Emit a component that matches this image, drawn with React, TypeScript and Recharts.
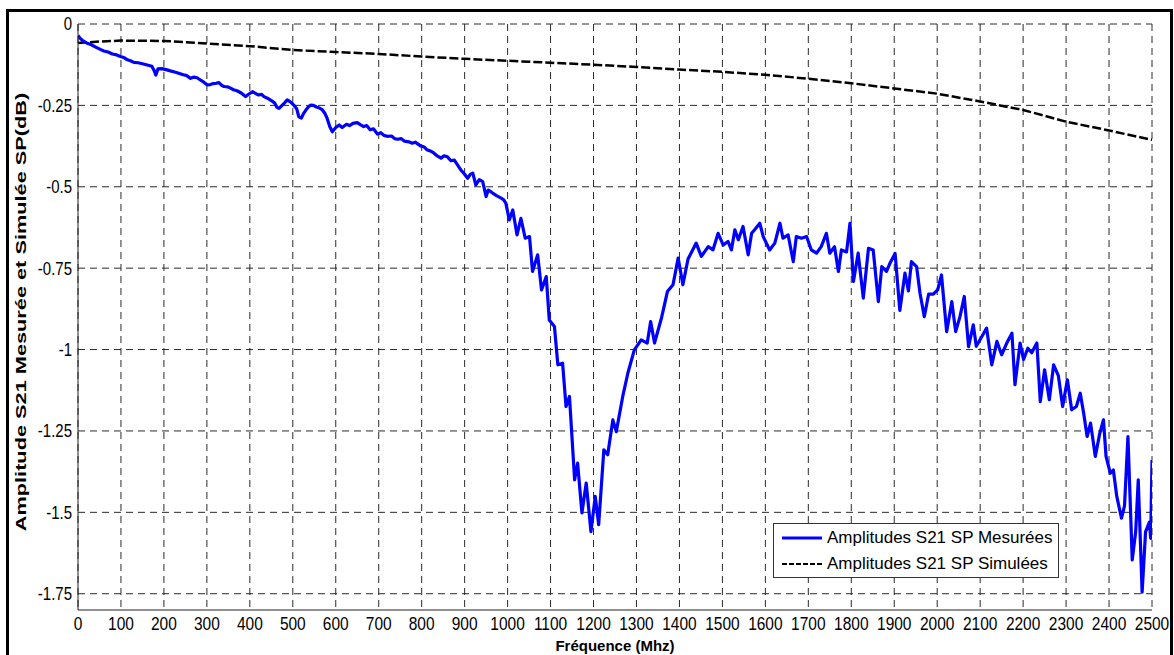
import { LineChart, Line, XAxis, YAxis, CartesianGrid, Legend } from 'recharts'

const freqMeasured = [
  0, 5, 10, 20, 30, 40, 52, 60, 70, 80, 90, 99, 108, 115, 122, 130, 140, 150, 161, 172,
  178, 181, 186, 195, 207, 215, 227, 236, 245, 252, 262, 270, 277, 285, 292, 301, 308, 315, 322, 328,
  334, 340, 348, 355, 362, 370, 380, 390, 398, 406, 413, 420, 427, 433, 441, 450, 458, 463, 468, 475,
  481, 487, 495, 503, 509, 514, 520, 525, 530, 536, 542, 548, 555, 562, 569, 575, 580, 586, 592, 600,
  608, 615, 625, 632, 640, 650, 658, 665, 672, 680, 688, 697, 705, 712, 720, 730, 737, 744, 752, 760,
  770, 778, 785, 798, 806, 812, 820, 828, 835, 845, 852, 860, 868, 876, 883, 891, 899, 907, 913, 919,
  926, 934, 942, 950, 955, 961, 968, 975, 985, 991, 996, 1004, 1012, 1022, 1031, 1041, 1051, 1058, 1070, 1079,
  1090, 1097, 1109, 1117, 1128, 1136, 1144, 1156, 1163, 1173, 1183, 1194, 1204, 1212, 1224, 1233, 1245, 1253, 1268, 1280,
  1295, 1311, 1325, 1333, 1342, 1358, 1372, 1385, 1397, 1408, 1420, 1439, 1451, 1467, 1478, 1490, 1502, 1513, 1521, 1529,
  1537, 1548, 1560, 1568, 1575, 1587, 1595, 1610, 1622, 1634, 1641, 1653, 1665, 1672, 1684, 1696, 1707, 1719, 1730, 1742,
  1750, 1761, 1770, 1777, 1789, 1797, 1805, 1816, 1828, 1840, 1851, 1863, 1871, 1882, 1890, 1902, 1913, 1925, 1933, 1940,
  1952, 1960, 1970, 1980, 1991, 2001, 2010, 2022, 2034, 2043, 2053, 2063, 2073, 2084, 2091, 2104, 2115, 2127, 2139, 2150,
  2162, 2174, 2181, 2193, 2201, 2211, 2220, 2232, 2240, 2250, 2261, 2271, 2282, 2292, 2303, 2313, 2324, 2333, 2341, 2349,
  2357, 2368, 2378, 2387, 2393, 2403, 2410, 2418, 2429, 2436, 2444, 2454, 2462, 2468, 2477, 2485, 2494, 2497, 2500,
]
const dbMeasured = [
  -0.035, -0.044, -0.05, -0.058, -0.063, -0.07, -0.078, -0.083, -0.086, -0.092, -0.095, -0.1, -0.104, -0.11, -0.113, -0.118, -0.119, -0.122, -0.126, -0.13,
  -0.145, -0.157, -0.138, -0.137, -0.141, -0.144, -0.148, -0.152, -0.156, -0.158, -0.167, -0.163, -0.165, -0.172, -0.178, -0.187, -0.186, -0.183, -0.182, -0.18,
  -0.188, -0.192, -0.193, -0.197, -0.202, -0.205, -0.212, -0.223, -0.215, -0.208, -0.213, -0.218, -0.216, -0.223, -0.228, -0.235, -0.243, -0.256, -0.259, -0.25,
  -0.242, -0.233, -0.24, -0.25, -0.26, -0.285, -0.289, -0.275, -0.265, -0.255, -0.249, -0.25, -0.255, -0.258, -0.264, -0.275, -0.29, -0.315, -0.331, -0.318,
  -0.31, -0.318, -0.308, -0.312, -0.305, -0.303, -0.31, -0.315, -0.312, -0.325, -0.322, -0.338, -0.334, -0.342, -0.345, -0.344, -0.352, -0.354, -0.352, -0.36,
  -0.362, -0.366, -0.363, -0.375, -0.378, -0.386, -0.39, -0.396, -0.404, -0.412, -0.405, -0.408, -0.42, -0.418, -0.432, -0.448, -0.46, -0.474, -0.462, -0.458,
  -0.494, -0.478, -0.484, -0.53, -0.51, -0.515, -0.522, -0.528, -0.535, -0.54, -0.551, -0.602, -0.571, -0.648, -0.597, -0.658, -0.653, -0.76, -0.709, -0.817,
  -0.776, -0.909, -0.929, -1.047, -1.042, -1.175, -1.144, -1.4, -1.349, -1.502, -1.41, -1.559, -1.451, -1.538, -1.308, -1.323, -1.216, -1.252, -1.144, -1.072,
  -1.001, -0.97, -0.98, -0.914, -0.98, -0.904, -0.822, -0.801, -0.719, -0.801, -0.722, -0.673, -0.714, -0.684, -0.694, -0.643, -0.679, -0.668, -0.694, -0.632,
  -0.663, -0.622, -0.709, -0.643, -0.632, -0.612, -0.653, -0.694, -0.673, -0.612, -0.658, -0.648, -0.73, -0.653, -0.658, -0.653, -0.694, -0.704, -0.684, -0.643,
  -0.704, -0.684, -0.76, -0.694, -0.7, -0.612, -0.791, -0.704, -0.842, -0.689, -0.694, -0.853, -0.745, -0.76, -0.735, -0.705, -0.88, -0.765, -0.82, -0.73,
  -0.745, -0.827, -0.899, -0.83, -0.83, -0.817, -0.771, -0.945, -0.853, -0.945, -0.899, -0.837, -0.991, -0.924, -0.99, -0.96, -0.934, -1.047, -0.975, -1.016,
  -0.98, -0.95, -1.108, -0.98, -1.03, -0.996, -1.01, -0.98, -1.16, -1.062, -1.154, -1.047, -1.08, -1.175, -1.093, -1.185, -1.175, -1.134, -1.196, -1.267,
  -1.226, -1.328, -1.26, -1.216, -1.328, -1.38, -1.37, -1.451, -1.518, -1.48, -1.267, -1.646, -1.56, -1.4, -1.745, -1.56, -1.53, -1.58, -1.339,
]

// Simulation (courbe noire en tirets)
const freqSimulated = [0, 50, 100, 200, 300, 400, 500, 600, 700, 800, 900, 1000, 1100, 1200, 1300, 1400, 1500, 1600, 1700, 1800, 1900, 2000, 2100, 2200, 2300, 2400, 2500]
const dbSimulated = [
  -0.058, -0.054, -0.051, -0.052, -0.06, -0.068, -0.08, -0.086, -0.092, -0.1, -0.107, -0.113, -0.119, -0.125,
  -0.132, -0.14, -0.147, -0.156, -0.168, -0.182, -0.198, -0.214, -0.238, -0.264, -0.3, -0.327, -0.356,
]

const xTicks = [0, 100, 200, 300, 400, 500, 600, 700, 800, 900, 1000, 1100, 1200, 1300, 1400, 1500, 1600, 1700, 1800, 1900, 2000, 2100, 2200, 2300, 2400, 2500]
const yTicks = [0, -0.25, -0.5, -0.75, -1, -1.25, -1.5, -1.75]

const measured = freqMeasured.map((f, i) => ({ f, v: dbMeasured[i] }))
const simulated = freqSimulated.map((f, i) => ({ f, v: dbSimulated[i] }))

const FONT = '"Liberation Sans", Arial, sans-serif'

const XTick = ({ x, y, payload }: any) => (
  <g transform={`translate(${x},${y})`}>
    <text x={0} y={0} dy="0.71em" textAnchor="middle" fontSize={15.5} fill="#000" fontFamily={FONT} transform="scale(1,1.17)">
      {payload.value}
    </text>
  </g>
)

const YTick = ({ x, y, payload }: any) => (
  <g transform={`translate(${x},${y})`}>
    <text x={0} y={0} dy="0.355em" textAnchor="end" fontSize={15} fill="#000" fontFamily={FONT} transform="scale(1,1.2)">
      {String(payload.value)}
    </text>
  </g>
)

const YLabel = ({ viewBox }: any) => {
  const cx = 21
  const cy = viewBox.y + viewBox.height / 2 - 5
  return (
    <g transform={`translate(${cx},${cy}) rotate(-90) scale(1.45,1)`}>
      <text
        x={0}
        y={0}
        textAnchor="middle"
        dominantBaseline="central"
        fontSize={15}
        fontWeight="bold"
        fontFamily={FONT}
        fill="#000"
      >
        Amplitude S21 Mesurée et Simulée SP(dB)
      </text>
    </g>
  )
}

const LegendBox = () => (
  <div
    style={{
      width: 286,
      height: 55,
      boxSizing: 'border-box',
      border: '1px solid #333',
      background: '#fff',
      fontFamily: FONT,
      fontSize: 17,
      color: '#000',
      paddingTop: 1,
    }}
  >
    {[
      { name: 'Amplitudes S21 SP Mesurées', color: '#0000ff', dash: undefined, w: 3 },
      { name: 'Amplitudes S21 SP Simulées', color: '#000', dash: '5 2', w: 2 },
    ].map((r) => (
      <div key={r.name} style={{ display: 'flex', alignItems: 'center', height: 26 }}>
        <svg width={50} height={8} style={{ marginLeft: 8 }}>
          <line x1={0} y1={4} x2={40} y2={4} stroke={r.color} strokeWidth={r.w} strokeDasharray={r.dash} />
        </svg>
        <span style={{ marginLeft: -5, whiteSpace: 'nowrap' }}>{r.name}</span>
      </div>
    ))}
  </div>
)

export default function App() {
  return (
    <div style={{ position: 'absolute', left: 0, top: 0, width: 1174, height: 655, overflow: 'hidden', background: '#fff' }}>
      <div
        style={{
          position: 'absolute',
          left: 6,
          top: 9,
          width: 1167,
          height: 700,
          boxSizing: 'border-box',
          border: '3px solid #000',
        }}
      />
      <div style={{ position: 'absolute', left: 0, top: 0 }}>
        <LineChart width={1174} height={655} margin={{ top: 24, right: 22, bottom: 0, left: 0 }}>
          <CartesianGrid stroke="#2a2a2a" strokeDasharray="7 5" verticalValues={xTicks} horizontalValues={yTicks} />
          <XAxis
            type="number"
            dataKey="f"
            domain={[0, 2500]}
            ticks={xTicks}
            interval={0}
            height={45}
            tickSize={0}
            tickMargin={7}
            tick={<XTick />}
            axisLine={{ stroke: '#222' }}
            tickLine={false}
            allowDataOverflow
            label={{ value: 'Fréquence (Mhz)', position: 'insideBottom', offset: 4, style: { fontFamily: FONT, fontSize: 15, fontWeight: 'bold', fill: '#000' } }}
          />
          <XAxis xAxisId="top" orientation="top" type="number" domain={[0, 2500]} height={0} tick={false} tickLine={false} axisLine={{ stroke: '#222' }} />
          <YAxis
            type="number"
            domain={[-1.8, 0]}
            ticks={yTicks}
            interval={0}
            width={78}
            tickSize={0}
            tickMargin={6}
            tick={<YTick />}
            axisLine={{ stroke: '#222' }}
            tickLine={false}
            allowDataOverflow
            label={{ content: <YLabel /> }}
          />
          <YAxis yAxisId="right" orientation="right" type="number" domain={[-1.8, 0]} width={0} tick={false} tickLine={false} axisLine={{ stroke: '#222' }} />
          <Line
            data={simulated}
            dataKey="v"
            name="Amplitudes S21 SP Simulées"
            type="linear"
            stroke="#000"
            strokeWidth={2.5}
            strokeDasharray="9 3"
            dot={false}
            isAnimationActive={false}
          />
          <Line
            data={measured}
            dataKey="v"
            name="Amplitudes S21 SP Mesurées"
            type="linear"
            stroke="#0000ff"
            strokeWidth={3.2}
            strokeLinejoin="round"
            dot={false}
            isAnimationActive={false}
          />
          <Legend
            layout="vertical"
            align="center"
            verticalAlign="middle"
            content={<LegendBox />}
            wrapperStyle={{ left: 773, top: 523, width: 286, height: 55 }}
          />
        </LineChart>
      </div>
    </div>
  )
}
